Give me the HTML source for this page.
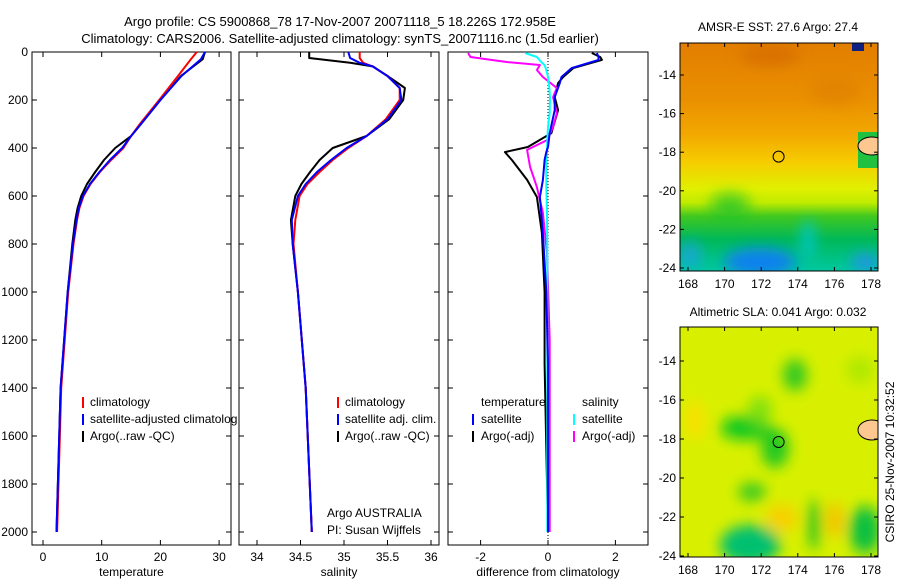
<!DOCTYPE html>
<html><head><meta charset="utf-8"><style>
body{margin:0;background:#fff}
svg text{font-family:"Liberation Sans",sans-serif;font-size:12px;fill:#000}
</style></head><body>
<svg id="c" width="900" height="580" viewBox="0 0 900 580">
<defs>
<filter id="bl" x="-50%" y="-50%" width="200%" height="200%"><feGaussianBlur stdDeviation="7"/></filter>
<clipPath id="m1c"><rect x="680" y="43" width="198" height="228"/></clipPath>
<clipPath id="m2c"><rect x="680" y="327" width="198" height="230"/></clipPath>
<linearGradient id="g1" x1="0" y1="0" x2="0" y2="1">
<stop offset="0" stop-color="#e27e00"/><stop offset="0.25" stop-color="#ea9000"/>
<stop offset="0.4" stop-color="#f2a800"/><stop offset="0.52" stop-color="#f6cc00"/>
<stop offset="0.64" stop-color="#e0f000"/><stop offset="0.7" stop-color="#c0ec00"/>
<stop offset="0.76" stop-color="#40c820"/><stop offset="0.86" stop-color="#00b858"/>
<stop offset="1" stop-color="#00c8a0"/></linearGradient>
</defs>
<text x="340" y="26" text-anchor="middle" style="font-size:13px">Argo profile: CS 5900868_78 17-Nov-2007 20071118_5 18.226S 172.958E</text>
<text x="340" y="43" text-anchor="middle" style="font-size:13px">Climatology: CARS2006. Satellite-adjusted climatology: synTS_20071116.nc (1.5d earlier)</text>

<g>
<text x="778" y="31" text-anchor="middle">AMSR-E SST: 27.6 Argo: 27.4</text>
<g clip-path="url(#m1c)">
<rect x="680" y="43" width="198" height="228" fill="url(#g1)"/>
<g filter="url(#bl)">
<ellipse cx="770" cy="55" rx="30" ry="10" fill="#d87000"/>
<ellipse cx="835" cy="90" rx="25" ry="14" fill="#e08000" opacity="0.7"/>
<ellipse cx="730" cy="205" rx="20" ry="12" fill="#10c030" opacity="0.7"/>
<ellipse cx="760" cy="262" rx="36" ry="14" fill="#1080f0"/>
<ellipse cx="690" cy="255" rx="12" ry="14" fill="#20a0f0" opacity="0.7"/>
<ellipse cx="865" cy="262" rx="14" ry="8" fill="#2090f0"/>
<ellipse cx="808" cy="240" rx="6" ry="20" fill="#00c8d0"/>
</g>
<rect x="858" y="132" width="20" height="36" fill="#20c040"/>
<rect x="852" y="43" width="12" height="8" fill="#102080"/>
<ellipse cx="872" cy="146" rx="14" ry="9" fill="#fcc890" stroke="#000"/>
<circle cx="778.6" cy="156.6" r="5.5" fill="none" stroke="#000"/>
</g>
<rect x="680" y="43" width="198" height="228" fill="none" stroke="#000"/>
<g id="m1t"></g>
</g>

<g>
<text x="778" y="316" text-anchor="middle">Altimetric SLA: 0.041 Argo: 0.032</text>
<g clip-path="url(#m2c)">
<rect x="680" y="327" width="198" height="230" fill="#d8f000"/>
<g filter="url(#bl)">
<ellipse cx="745" cy="428" rx="25" ry="12" fill="#10c820"/>
<ellipse cx="775" cy="448" rx="14" ry="20" fill="#20c820"/>
<ellipse cx="760" cy="410" rx="12" ry="14" fill="#80e010"/>
<ellipse cx="795" cy="375" rx="12" ry="16" fill="#30c820"/>
<ellipse cx="750" cy="545" rx="30" ry="20" fill="#00c070"/>
<ellipse cx="752" cy="492" rx="14" ry="9" fill="#30c820"/>
<ellipse cx="814" cy="525" rx="6" ry="26" fill="#20c020"/>
<ellipse cx="865" cy="530" rx="16" ry="24" fill="#10c040"/>
<ellipse cx="782" cy="518" rx="16" ry="14" fill="#f8d000"/>
<ellipse cx="835" cy="520" rx="8" ry="18" fill="#f8c000"/>
<ellipse cx="695" cy="420" rx="10" ry="20" fill="#f8e000"/>
<ellipse cx="860" cy="370" rx="14" ry="14" fill="#b0e800"/>
</g>
<ellipse cx="872" cy="430" rx="14" ry="10" fill="#fcc890" stroke="#000"/>
<circle cx="778.6" cy="442" r="5.5" fill="none" stroke="#000"/>
</g>
<rect x="680" y="327" width="198" height="230" fill="none" stroke="#000"/>
<g id="m2t"></g>
</g>
<text transform="translate(894,462) rotate(-90)" text-anchor="middle">CSIRO 25-Nov-2007 10:32:52</text>

<g id="p1"></g>
<g id="p2"></g>
<g id="p3"></g>

<g>
<rect x="82" y="397" width="2" height="11" fill="red"/><text x="90" y="406">climatology</text>
<rect x="82" y="414" width="2" height="11" fill="blue"/><text x="90" y="423">satellite-adjusted climatolog</text>
<rect x="82" y="431" width="2" height="11" fill="#000"/><text x="90" y="440">Argo(..raw -QC)</text>
</g>
<g>
<rect x="337" y="397" width="2" height="11" fill="red"/><text x="345" y="406">climatology</text>
<rect x="337" y="414" width="2" height="11" fill="blue"/><text x="345" y="423">satellite adj. clim.</text>
<rect x="337" y="431" width="2" height="11" fill="#000"/><text x="345" y="440">Argo(..raw -QC)</text>
<text x="327" y="517">Argo AUSTRALIA</text><text x="327" y="534">PI: Susan Wijffels</text>
</g>
<g>
<text x="481" y="406">temperature</text><text x="582" y="406">salinity</text>
<rect x="472" y="414" width="2" height="11" fill="blue"/><text x="481" y="423">satellite</text>
<rect x="472" y="431" width="2" height="11" fill="#000"/><text x="481" y="440">Argo(-adj)</text>
<rect x="573" y="414" width="2" height="11" fill="cyan"/><text x="582" y="423">satellite</text>
<rect x="573" y="431" width="2" height="11" fill="magenta"/><text x="582" y="440">Argo(-adj)</text>
</g>
</svg>
<script>
// depth ticks
const depthTicks=[0,200,400,600,800,1000,1200,1400,1600,1800,2000];
const tempTicks=[0,10,20,30];
const salTicks=[34,34.5,35,35.5,36];
const diffTicks=[-2,0,2];
// temperature profiles
const tDepth=[0,30,100,200,300,350,400,450,500,550,600,650,700,800,1000,1400,2000];
const tClim=[26.2,25.2,23.0,19.8,16.5,15.0,13.7,11.6,9.7,8.1,6.9,6.2,5.8,5.2,4.3,3.1,2.4];
const tSat=[27.6,26.9,23.6,20.0,16.7,15.0,13.5,11.4,9.6,8.0,6.8,6.1,5.7,5.1,4.2,3.0,2.3];
const tArgo=[27.6,27.2,23.5,20.0,16.7,15.0,12.3,10.4,8.9,7.5,6.5,5.9,5.5,5.0,4.2,3.0,2.3];
// salinity profiles
const sDepth=[0,25,45,60,100,150,200,280,350,400,450,500,550,600,700,800,1000,1400,2000];
const sClim=[35.18,35.18,35.22,35.33,35.5,35.64,35.64,35.48,35.26,35.05,34.87,34.72,34.58,34.49,34.44,34.42,34.47,34.56,34.63];
const sSat=[35.05,35.07,35.18,35.33,35.5,35.64,35.66,35.5,35.26,35.03,34.85,34.69,34.56,34.47,34.40,34.41,34.47,34.56,34.63];
const sArgo=[34.6,34.6,35.07,35.33,35.5,35.70,35.68,35.52,35.26,34.87,34.72,34.61,34.51,34.44,34.39,34.41,34.47,34.56,34.63];
// difference profiles
const dDepth=[4,21,33,67,104,129,188,242,338,396,417,450,533,604,754,1000,1300,2000];
const dTempSat=[1.45,1.5,1.5,0.7,0.4,0.35,0.2,0.2,0.05,0.0,-0.05,-0.1,-0.15,-0.24,-0.15,-0.05,0.0,0.0];
const dTempArgo=[1.3,1.55,1.6,0.75,0.45,0.3,0.2,0.3,0.1,-0.6,-1.28,-1.07,-0.62,-0.33,-0.18,-0.1,-0.1,0.0];
const sdDepth=[4,21,42,54,75,104,150,188,254,312,367,408,479,563,671,838,1200,2000];
const dSalArgo=[-2.37,-2.3,-1.2,-0.24,-0.33,-0.15,0.26,0.15,0.26,0.15,-0.03,-0.62,-0.53,-0.33,-0.15,-0.03,0.05,0.05];
const dSalSat=[-0.68,-0.33,-0.2,-0.1,-0.05,0.0,0.04,0.06,0.05,0.0,-0.02,-0.03,-0.05,-0.05,-0.03,-0.02,-0.02,-0.02];
// map ticks
const lonTicks=[168,170,172,174,176,178];
const latTicks=[-14,-16,-18,-20,-22,-24];

const NS='http://www.w3.org/2000/svg';
function mk(tag,attrs,parent){const e=document.createElementNS(NS,tag);for(const k in attrs)e.setAttribute(k,attrs[k]);parent.appendChild(e);return e;}
const yD=d=>52+d*0.24;
function panel(g,x0,x1,xs,ticks,label,showY){
  const r=mk('rect',{x:x0,y:52,width:x1-x0,height:493,fill:'none',stroke:'#000'},g);
  
  
  depthTicks.forEach(d=>{const y=yD(d);
    mk('line',{x1:x0,x2:x0+5,y1:y,y2:y,stroke:'#000'},g);
    mk('line',{x1:x1-5,x2:x1,y1:y,y2:y,stroke:'#000'},g);
    if(showY){const t=mk('text',{x:x0-4,y:y+4,'text-anchor':'end'},g);t.textContent=d;
      
      }
  });
  ticks.forEach(v=>{const x=xs(v);
    mk('line',{x1:x,x2:x,y1:545,y2:540,stroke:'#000'},g);
    mk('line',{x1:x,x2:x,y1:52,y2:57,stroke:'#000'},g);
    const t=mk('text',{x:x,y:561,'text-anchor':'middle'},g);t.textContent=v;
    
    });
  const t=mk('text',{x:(x0+x1)/2,y:576,'text-anchor':'middle'},g);t.textContent=label;
  
  
}
function line(g,xs,depths,vals,color,w,name){
  const p=mk('polyline',{points:depths.map((d,i)=>xs(vals[i]).toFixed(1)+','+yD(d).toFixed(1)).join(' '),fill:'none',stroke:color,'stroke-width':w,'stroke-linejoin':'round'},g);
  
  
}
const xT=v=>43+v*5.87, xS=v=>257+(v-34)*87, xDf=v=>548+v*33.7;
const p1=document.getElementById('p1'),p2=document.getElementById('p2'),p3=document.getElementById('p3');
panel(p1,32,231,xT,tempTicks,'temperature',true);
line(p1,xT,tDepth,tArgo,'#000',2,'argo-temperature-line');
line(p1,xT,tDepth,tClim,'red',2,'climatology-temperature-line');
line(p1,xT,tDepth,tSat,'blue',2,'satellite-temperature-line');
panel(p2,239,439,xS,salTicks,'salinity',false);
line(p2,xS,sDepth,sArgo,'#000',2,'argo-salinity-line');
line(p2,xS,sDepth,sClim,'red',2,'climatology-salinity-line');
line(p2,xS,sDepth,sSat,'blue',2,'satellite-salinity-line');
panel(p3,448,648,xDf,diffTicks,'difference from climatology',false);
const z=mk('line',{x1:xDf(0),x2:xDf(0),y1:52,y2:545,stroke:'#000','stroke-dasharray':'1,2'},p3);


line(p3,xDf,dDepth,dTempArgo,'#000',2,'argo-temp-diff-line');
line(p3,xDf,sdDepth,dSalArgo,'magenta',2,'argo-sal-diff-line');
line(p3,xDf,sdDepth,dSalSat,'cyan',2,'satellite-sal-diff-line');
line(p3,xDf,dDepth,dTempSat,'blue',2,'satellite-temp-diff-line');

function mapTicks(id,y0,yBot,latY){
  const g=document.getElementById(id);
  lonTicks.forEach(l=>{const x=688+(l-168)*18.3;
    mk('line',{x1:x,x2:x,y1:yBot,y2:yBot-4,stroke:'#000'},g);
    mk('line',{x1:x,x2:x,y1:y0,y2:y0+4,stroke:'#000'},g);
    const t=mk('text',{x:x,y:yBot+17,'text-anchor':'middle'},g);t.textContent=l;
    
    });
  latTicks.forEach(l=>{const y=latY(l);
    mk('line',{x1:680,x2:684,y1:y,y2:y,stroke:'#000'},g);
    mk('line',{x1:874,x2:878,y1:y,y2:y,stroke:'#000'},g);
    const t=mk('text',{x:676,y:y+4,'text-anchor':'end'},g);t.textContent=l;
    
    });
}
mapTicks('m1t',43,271,l=>75+(-14-l)*19.3);
mapTicks('m2t',327,557,l=>361+(-14-l)*19.5);
</script>
</body></html>
